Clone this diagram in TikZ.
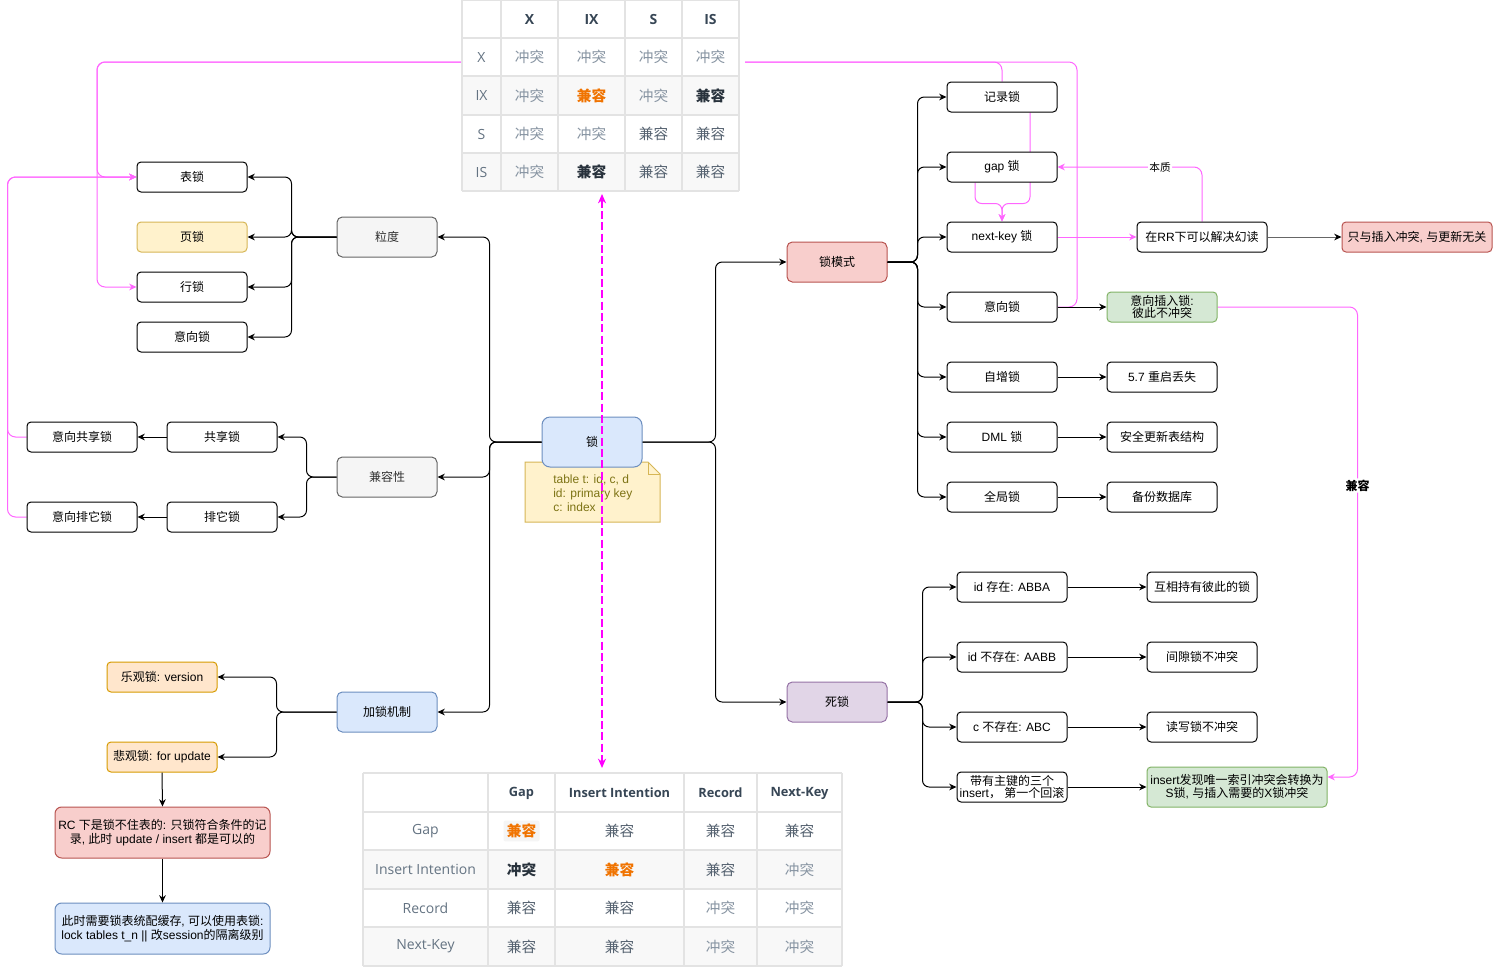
\documentclass[tikz,border=0pt]{standalone}
\usepackage{fontspec}
\setmainfont{Liberation Sans}
\newfontfamily\cjkf{Noto Sans CJK SC}
\newfontfamily\tabf{Open Sans}
\usetikzlibrary{arrows.meta,calc}
\newcommand\lat[1]{{\rmfamily #1}}
\definecolor{pinkc}{RGB}{255,102,255}
\definecolor{mag}{RGB}{255,0,255}
\definecolor{bluefill}{HTML}{DAE8FC}\definecolor{bluedraw}{HTML}{6C8EBF}
\definecolor{grayfill}{HTML}{F5F5F5}\definecolor{graydraw}{HTML}{666666}
\definecolor{redfill}{HTML}{F8CECC}\definecolor{reddraw}{HTML}{B85450}
\definecolor{yelfill}{HTML}{FFF2CC}\definecolor{yeldraw}{HTML}{D6B656}
\definecolor{orfill}{HTML}{FFE6CC}\definecolor{ordraw}{HTML}{D79B00}
\definecolor{grfill}{HTML}{D5E8D4}\definecolor{grdraw}{HTML}{82B366}
\definecolor{pufill}{HTML}{E1D5E7}\definecolor{pudraw}{HTML}{9673A6}
\definecolor{notetext}{RGB}{125,115,20}
\definecolor{tgrid}{HTML}{E3E3E3}
\definecolor{tshade}{HTML}{F8F8F8}
\definecolor{thd}{RGB}{55,70,85}
\definecolor{trl}{RGB}{100,115,130}
\definecolor{tcf}{RGB}{135,148,162}
\definecolor{tcn}{RGB}{85,98,112}
\definecolor{tcb}{RGB}{40,50,60}
\definecolor{tor}{RGB}{240,115,0}
\pgfdeclarelayer{bg}
\pgfsetlayers{bg,main}
\begin{document}
\begin{tikzpicture}[x=0.75pt,y=-0.75pt,
  box/.style={draw=black, fill=white, rounded corners=3pt, line width=0.75pt,
    minimum width=82.5pt, minimum height=22.5pt, inner sep=1pt, align=center,
    font=\cjkf\fontsize{9}{10.5}\selectfont},
  bigbox/.style={box, minimum width=75pt, minimum height=30pt, rounded corners=4pt},
  grayf/.style={fill=grayfill, draw=graydraw, text={rgb,255:red,51;green,51;blue,51}},
  bluef/.style={fill=bluefill, draw=bluedraw},
  redf/.style={fill=redfill, draw=reddraw},
  yelf/.style={fill=yelfill, draw=yeldraw},
  orf/.style={fill=orfill, draw=ordraw},
  grf/.style={fill=grfill, draw=grdraw},
  puf/.style={fill=pufill, draw=pudraw},
  tip/.style={-{Stealth[length=5.5pt,width=5pt]}},
  conn/.style={tip, draw=black, line width=0.75pt, rounded corners=5pt},
  pinkl/.style={draw=pinkc, line width=0.75pt, rounded corners=6pt},
  pinka/.style={pinkl, -{Stealth[length=5.5pt,width=5pt]}},
  lbl/.style={fill=white, inner sep=1pt, text=black, font=\cjkf\fontsize{8}{9}\selectfont},
  hd/.style={font=\tabf\bfseries\fontsize{10.5}{12}\selectfont, text=thd},
  hdb/.style={font=\tabf\bfseries\fontsize{9.6}{11}\selectfont, text=thd},
  rl/.style={font=\tabf\fontsize{10.5}{12}\selectfont, text=trl},
  cf/.style={font=\cjkf\fontsize{11}{13}\selectfont, text=tcf},
  cn/.style={font=\cjkf\fontsize{11}{13}\selectfont, text=tcn},
  cb/.style={font=\cjkf\bfseries\fontsize{11}{13}\selectfont, text=tcb},
  co/.style={font=\cjkf\bfseries\fontsize{11}{13}\selectfont, text=tor},
]
\useasboundingbox (0,0) rectangle (1493,979);
\begin{pgfonlayer}{bg}
\fill[white] (0,0) rectangle (1493,979);
\end{pgfonlayer}

% ---------- top table ----------
\fill[white] (462,0) rectangle (739,191);
\fill[tshade] (462,76) rectangle (739,115);
\fill[tshade] (462,153) rectangle (739,191);
\foreach \yy in {0.75,38,76,115,153,191} \draw[tgrid, line width=1pt] (462,\yy) -- (739,\yy);
\foreach \xx in {462,501,558,625,682,739} \draw[tgrid, line width=1pt] (\xx,0) -- (\xx,191);
\node[hd] (a01) at (529.5,19) {X};
\node[hd] (a02) at (591.5,19) {IX};
\node[hd] (a03) at (653.5,19) {S};
\node[hd] (a04) at (710.5,19) {IS};
\node[rl] (a10) at (481.5,57) {X};
\node[cf] (a11) at (529.5,57) {冲突};
\node[cf] (a12) at (591.5,57) {冲突};
\node[cf] (a13) at (653.5,57) {冲突};
\node[cf] (a14) at (710.5,57) {冲突};
\node[rl] (a20) at (481.5,95.5) {IX};
\node[cf] (a21) at (529.5,95.5) {冲突};
\node[co] (a22) at (591.5,95.5) {兼容};
\node[cf] (a23) at (653.5,95.5) {冲突};
\node[cb] (a24) at (710.5,95.5) {兼容};
\node[rl] (a30) at (481.5,134) {S};
\node[cf] (a31) at (529.5,134) {冲突};
\node[cf] (a32) at (591.5,134) {冲突};
\node[cn] (a33) at (653.5,134) {兼容};
\node[cn] (a34) at (710.5,134) {兼容};
\node[rl] (a40) at (481.5,172) {IS};
\node[cf] (a41) at (529.5,172) {冲突};
\node[cb] (a42) at (591.5,172) {兼容};
\node[cn] (a43) at (653.5,172) {兼容};
\node[cn] (a44) at (710.5,172) {兼容};
\coordinate (ttL) at (462,62);
\coordinate (ttR) at (745,62);

% ---------- bottom table ----------
\fill[white] (363,773) rectangle (842,966);
\fill[tshade] (363,850) rectangle (842,889);
\fill[tshade] (363,927) rectangle (842,966);
\foreach \yy in {773,812,850,889,927,966} \draw[tgrid, line width=1pt] (363,\yy) -- (842,\yy);
\foreach \xx in {363,488,555,684,757,842} \draw[tgrid, line width=1pt] (\xx,773) -- (\xx,966);
\node[hdb] (b01) at (521.5,793) {Gap};
\node[hdb] (b02) at (619.5,793) {Insert Intention};
\node[hdb] (b03) at (720.5,793) {Record};
\node[hdb] (b04) at (799.5,793) {Next-Key};
\node[rl] (b10) at (425.5,831) {Gap};
\node[co, fill=grayfill, rounded corners=1.5pt, inner sep=2.5pt] (b11) at (521.5,831) {兼容};
\node[cn] (b12) at (619.5,831) {兼容};
\node[cn] (b13) at (720.5,831) {兼容};
\node[cn] (b14) at (799.5,831) {兼容};
\node[rl] (b20) at (425.5,869.5) {Insert Intention};
\node[cb] (b21) at (521.5,869.5) {冲突};
\node[co] (b22) at (619.5,869.5) {兼容};
\node[cn] (b23) at (720.5,869.5) {兼容};
\node[cf] (b24) at (799.5,869.5) {冲突};
\node[rl] (b30) at (425.5,908) {Record};
\node[cn] (b31) at (521.5,908) {兼容};
\node[cn] (b32) at (619.5,908) {兼容};
\node[cf] (b33) at (720.5,908) {冲突};
\node[cf] (b34) at (799.5,908) {冲突};
\node[rl] (b40) at (425.5,946.5) {Next-Key};
\node[cn] (b41) at (521.5,946.5) {兼容};
\node[cn] (b42) at (619.5,946.5) {兼容};
\node[cf] (b43) at (720.5,946.5) {冲突};
\node[cf] (b44) at (799.5,946.5) {冲突};

% ---------- note ----------
\filldraw[fill=yelfill, draw=yeldraw, line width=0.75pt]
  (525,462) -- (648,462) -- (660,474) -- (660,522) -- (525,522) -- cycle;
\draw[yeldraw, line width=0.75pt] (648,462) -- (648,474) -- (660,474);
\node[anchor=north west, align=left, inner sep=0pt, text=notetext,
  font=\fontsize{9}{10.5}\selectfont] (notetxt) at (553,475)
  {table t: id, c, d\\id: primary key\\c: index};

% ---------- nodes ----------
\node[bigbox, bluef, minimum height=37.5pt, rounded corners=6pt] (lock) at (592,442) {锁};
\node[bigbox, grayf] (gran) at (387,237) {粒度};
\node[bigbox, grayf] (compat) at (387,477) {兼容性};
\node[bigbox, bluef] (mech) at (387,712) {加锁机制};

\node[box] (tbl) at (192,177) {表锁};
\node[box, yelf] (page) at (192,237) {页锁};
\node[box] (rowl) at (192,287) {行锁};
\node[box] (intent) at (192,337) {意向锁};

\node[box] (share) at (222,437) {共享锁};
\node[box] (excl) at (222,517) {排它锁};
\node[box] (ishare) at (82,437) {意向共享锁};
\node[box] (iexcl) at (82,517) {意向排它锁};

\node[box, orf] (opt) at (162,677) {乐观锁\lat{: version}};
\node[box, orf] (pes) at (162,757) {悲观锁\lat{: for update}};
\node[box, redf, minimum width=161.25pt, minimum height=38.25pt, rounded corners=5pt] (rc) at (162.5,832.5)
  {\lat{RC }下是锁不住表的\lat{: }只锁符合条件的记\\录\lat{, }此时\lat{ update / insert }都是可以的};
\node[box, bluef, minimum width=161.25pt, minimum height=38.25pt, rounded corners=5pt] (cache) at (162.5,928.5)
  {此时需要锁表统配缓存\lat{, }可以使用表锁\lat{:}\\\lat{lock tables t\_n || }改\lat{session}的隔离级别};

\node[bigbox, redf] (mode) at (837,262) {锁模式};
\node[bigbox, puf] (dead) at (837,702) {死锁};

\node[box] (rec) at (1002,97) {记录锁};
\node[box] (gap) at (1002,167) {\lat{gap }锁};
\node[box] (nk) at (1002,237) {\lat{next-key }锁};
\node[box] (intl) at (1002,307) {意向锁};
\node[box] (auto) at (1002,377) {自增锁};
\node[box] (dml) at (1002,437) {\lat{DML }锁};
\node[box] (glob) at (1002,497) {全局锁};

\node[box, minimum width=97.5pt] (rr) at (1202,237) {在\lat{RR}下可以解决幻读};
\node[box, redf, minimum width=112.5pt] (only) at (1417,237) {只与插入冲突\lat{, }与更新无关};
\node[box, grf, font=\cjkf\fontsize{9}{9.5}\selectfont] (iins) at (1162,307) {意向插入锁\lat{:}\\彼此不冲突};
\node[box] (r57) at (1162,377) {\lat{5.7 }重启丢失};
\node[box] (safe) at (1162,437) {安全更新表结构};
\node[box] (backup) at (1162,497) {备份数据库};

\node[box] (d1) at (1012,587) {\lat{id }存在\lat{: ABBA}};
\node[box] (d2) at (1012,657) {\lat{id }不存在\lat{: AABB}};
\node[box] (d3) at (1012,727) {\lat{c }不存在\lat{: ABC}};
\node[box, font=\cjkf\fontsize{9}{9.5}\selectfont] (d4) at (1012,787) {带有主键的三个\\\lat{insert}，\lat{ }第一个回滚};
\node[box] (e1) at (1202,587) {互相持有彼此的锁};
\node[box] (e2) at (1202,657) {间隙锁不冲突};
\node[box] (e3) at (1202,727) {读写锁不冲突};
\node[box, grf, minimum width=135pt, minimum height=30pt, font=\cjkf\fontsize{9}{10}\selectfont] (e4) at (1237,787)
  {\lat{insert}发现唯一索引冲突会转换为\\\lat{S}锁\lat{, }与插入需要的\lat{X}锁冲突};

% ---------- black connectors ----------
\draw[conn] (lock.west) -- ++(-52,0) |- (gran.east);
\draw[conn] (lock.west) -- ++(-52,0) |- (compat.east);
\draw[conn] (lock.west) -- ++(-52,0) |- (mech.east);
\draw[conn] (lock.east) -- ++(73,0) |- (mode.west);
\draw[conn] (lock.east) -- ++(73,0) |- (dead.west);

\foreach \t in {tbl,page,rowl,intent} \draw[conn] (gran.west) -- ++(-45,0) |- (\t.east);
\foreach \t in {share,excl} \draw[conn] (compat.west) -- ++(-30,0) |- (\t.east);
\draw[conn] (share.west) -- (ishare.east);
\draw[conn] (excl.west) -- (iexcl.east);
\foreach \t in {opt,pes} \draw[conn] (mech.west) -- ++(-60,0) |- (\t.east);
\draw[conn] (pes.south) -- (rc.north);
\draw[conn] (rc.south) -- (cache.north);

\foreach \t in {rec,gap,nk,intl,auto,dml,glob} \draw[conn] (mode.east) -- ++(30,0) |- (\t.west);
\draw[conn] (intl.east) -- (iins.west);
\draw[conn] (auto.east) -- (r57.west);
\draw[conn] (dml.east) -- (safe.west);
\draw[conn] (glob.east) -- (backup.west);
\draw[conn, draw=graydraw, -{Stealth[length=5.5pt,width=5pt,color=black]}] (rr.east) -- (only.west);

\foreach \t in {d1,d2,d3,d4} \draw[conn] (dead.east) -- ++(35,0) |- (\t.west);
\draw[conn] (d1.east) -- (e1.west);
\draw[conn] (d2.east) -- (e2.west);
\draw[conn] (d3.east) -- (e3.west);
\draw[conn] (d4.east) -- (e4.west);

% ---------- pink connectors ----------
\begin{pgfonlayer}{bg}
\draw[pinka] (ttL) -- ++(-365,0) |- (tbl.west);
\draw[pinka] (ttL) -- ++(-365,0) |- (rowl.west);
\draw[pinka] (ishare.west) -- ++(-19,0) |- (tbl.west);
\draw[pinka] (iexcl.west) -- ++(-19,0) |- (tbl.west);
\draw[pinkl] (ttR) -| (rec.north);
\draw[pinkl] (ttR) -- ++(332,0) |- (intl.east);
\draw[pinka, rounded corners=5pt] ($(rec.south)+(28,0)$) -- ++(0,91) -| (nk.north);
\draw[pinka, rounded corners=5pt] ($(gap.south)+(-27,0)$) -- ++(0,21) -| (nk.north);
\draw[pinka] (nk.east) -- (rr.west);
\draw[pinka] (rr.north) |- node[lbl, pos=0.645] (lblbz) {本质} (gap.east);
\draw[pinka] (iins.east) -- ++(140,0) |- node[lbl, pos=0.19, font=\cjkf\bfseries\fontsize{9}{10}\selectfont] (lbljr) {兼容} ($(e4.east)+(0,-10)$);
\end{pgfonlayer}

% ---------- magenta dashed double arrow ----------
\coordinate (dTop) at (602,194);
\coordinate (dBot) at (602,768);
\draw[mag, line width=1.5pt, dash pattern=on 6pt off 2.5pt,
  {Stealth[length=7pt,width=6pt]}-{Stealth[length=7pt,width=6pt]}] (dTop) -- (dBot);
\end{tikzpicture}
\end{document}
